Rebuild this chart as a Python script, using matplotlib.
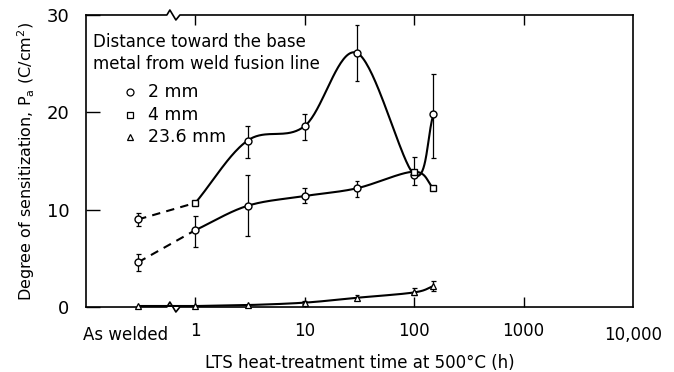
import numpy as np
import matplotlib
matplotlib.use("Agg")
import matplotlib.pyplot as plt

plt.rcParams['font.family'] = ['DejaVu Sans']
plt.rcParams['mathtext.fontset'] = 'dejavusans'

# time values (h); "as welded" is placed at 0.3 h on the log axis
AS_WELDED = 0.3
hours = [AS_WELDED, 1, 3, 10, 30, 100, 150]

# upper curve
upper = [9.0, 10.7, 17.1, 18.6, 26.1, 13.6, 19.8]
upper_lo = [8.3, 10.5, 15.3, 17.2, 23.2, 12.5, 15.3]
upper_hi = [9.7, 10.9, 18.6, 19.8, 29.0, 15.4, 23.9]
upper_mk = ['o', 's', 'o', 'o', 'o', 'o', 'o']

# lower curve
lower = [4.6, 7.9, 10.4, 11.4, 12.2, 13.9, 12.2]
lower_lo = [3.7, 6.2, 7.3, 10.7, 11.3, 13.9, 12.2]
lower_hi = [5.4, 9.4, 13.6, 12.2, 12.9, 13.9, 12.2]
lower_mk = ['o', 'o', 'o', 'o', 'o', 's', 's']

# 23.6 mm
tri = [0.1, 0.1, 0.2, 0.45, 0.95, 1.5, 2.15]
tri_lo = [0.1, 0.1, 0.2, 0.3, 0.7, 1.2, 1.6]
tri_hi = [0.1, 0.1, 0.2, 0.6, 1.2, 2.0, 2.7]

xticks = [1, 10, 100, 1000, 10000]
xticklabels = ['1', '10', '100', '1000', '10,000']
yticks = [0, 10, 20, 30]


def smooth(xs, ys, n=40):
    # Catmull-Rom through the points in log-x space
    lx = np.log10(xs)
    y = np.asarray(ys, float)
    px = np.concatenate([[2 * lx[0] - lx[1]], lx, [2 * lx[-1] - lx[-2]]])
    py = np.concatenate([[2 * y[0] - y[1]], y, [2 * y[-1] - y[-2]]])
    outx, outy = [], []
    for i in range(1, len(px) - 2):
        t = np.linspace(0, 1, n)
        for arr, out in ((px, outx), (py, outy)):
            p0, p1, p2, p3 = arr[i - 1], arr[i], arr[i + 1], arr[i + 2]
            out.extend(0.5 * (2 * p1 + (-p0 + p2) * t
                              + (2 * p0 - 5 * p1 + 4 * p2 - p3) * t ** 2
                              + (-p0 + 3 * p1 - 3 * p2 + p3) * t ** 3))
    return 10 ** np.array(outx), np.array(outy)


fig = plt.figure(figsize=(6.74, 3.72), dpi=100)
ax = fig.add_axes([0.1276, 0.1747, 0.8116, 0.785])
ax.set_xscale('log')
ax.set_xlim(0.1, 10000)
ax.set_ylim(0, 30)

lw = 1.5
for vals, lo, hi, mks in ((upper, upper_lo, upper_hi, upper_mk),
                          (lower, lower_lo, lower_hi, lower_mk)):
    ax.plot(hours[:2], vals[:2], '--', color='black', lw=lw, dashes=(4, 3))
    sx, sy = smooth(hours[1:], vals[1:])
    ax.plot(sx, sy, '-', color='black', lw=lw)
    ax.vlines(hours, lo, hi, color='black', lw=0.9)
    ax.hlines(lo + hi, [h / 1.05 for h in hours] * 2, [h * 1.05 for h in hours] * 2,
              color='black', lw=0.9)
    for h, v, m in zip(hours, vals, mks):
        ax.plot(h, v, m, ms=5, mfc='white', mec='black', mew=1.0, zorder=5)

sx, sy = smooth(hours[1:], tri[1:])
ax.plot(hours[:2], tri[:2], '-', color='black', lw=lw)
ax.plot(sx, sy, '-', color='black', lw=lw)
ax.vlines(hours[3:], tri_lo[3:], tri_hi[3:], color='black', lw=0.9)
ax.hlines(tri_lo[3:] + tri_hi[3:], [h / 1.05 for h in hours[3:]] * 2,
          [h * 1.05 for h in hours[3:]] * 2, color='black', lw=0.9)
ax.plot(hours, tri, '^', ms=4.5, mfc='white', mec='black', mew=0.9, zorder=5,
        clip_on=False)

# spines with the axis break
for s in ('top', 'bottom'):
    ax.spines[s].set_visible(False)
for s in ('left', 'right'):
    ax.spines[s].set_linewidth(1.2)
W, H = 547.0, 292.0
bx = 0.157
zx = [0, bx - 5 / W, bx - 2 / W, bx + 4 / W, bx + 8 / W, 1]
for y0 in (0, 1):
    zy = [y0, y0, y0 + 5 / H, y0 - 5 / H, y0, y0]
    ax.plot(zx, zy, color='black', lw=1.2, transform=ax.transAxes, clip_on=False)

ax.tick_params(which='both', direction='in', top=True, right=False, labelsize=12)
ax.tick_params(which='major', axis='x', length=7, width=1.0, pad=11)
ax.tick_params(which='major', axis='y', length=10, width=1.0, pad=12, labelsize=13)
ax.tick_params(which='minor', length=0)
ax.set_xticks(xticks[:-1])
ax.set_xticklabels(xticklabels[:-1])
ax.set_yticks(yticks)
ax.text(10000, -0.065, xticklabels[-1], transform=ax.get_xaxis_transform(),
        ha='center', va='top', fontsize=12)
ax.text(0.073, -0.065, 'As welded', transform=ax.transAxes,
        ha='center', va='top', fontsize=12)

ax.set_xlabel('LTS heat-treatment time at 500°C (h)', fontsize=12)
ax.xaxis.set_label_coords(0.5, -0.16)
ax.set_ylabel('Degree of sensitization, P$_\\mathrm{a}$ (C/cm$^2$)', fontsize=11.5)
ax.yaxis.set_label_coords(-0.09, 0.5)

# legend drawn as text
ax.text(0.013, 0.94, 'Distance toward the base\nmetal from weld fusion line',
        transform=ax.transAxes, ha='left', va='top', fontsize=12, linespacing=1.3)
labels = ['2 mm', '4 mm', '23.6 mm']
marks = ['o', 's', '^']
for i, (lab, m) in enumerate(zip(labels, marks)):
    yy = 0.736 - i * 0.077
    ax.plot([0.08], [yy], m, ms=5 if m != '^' else 4.5, mfc='white', mec='black',
            mew=0.9, transform=ax.transAxes)
    ax.text(0.113, yy, lab, transform=ax.transAxes, ha='left', va='center',
            fontsize=12.5)

fig.savefig('out.png', dpi=100)
